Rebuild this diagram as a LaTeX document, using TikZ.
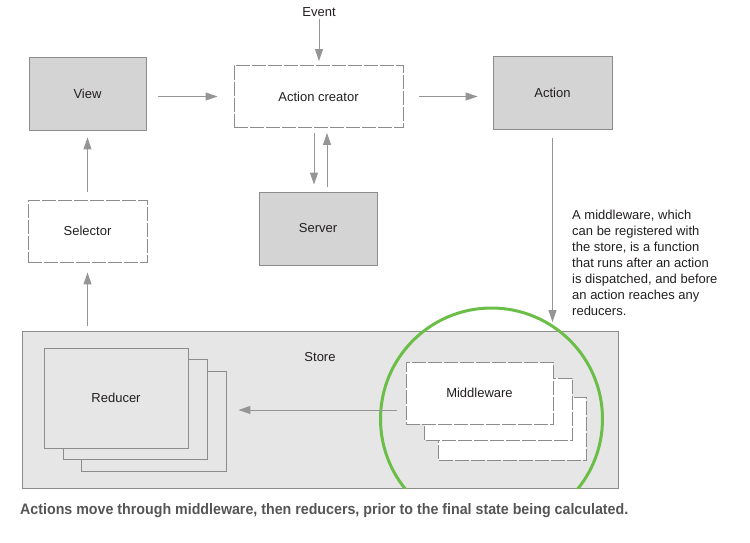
\documentclass[tikz,border=0pt]{standalone}
\usepackage{fontspec}
\setmainfont{Liberation Sans}
\usetikzlibrary{arrows.meta,calc}
\definecolor{bordergray}{HTML}{8C8C8C}
\definecolor{arrowgray}{HTML}{959595}
\definecolor{boxfill}{HTML}{D4D4D4}
\definecolor{storefill}{HTML}{E6E6E6}
\definecolor{txt}{HTML}{231F20}
\definecolor{captiongray}{HTML}{555555}
\definecolor{ringgreen}{HTML}{6BBE47}
\begin{document}
\begin{tikzpicture}[x=1pt,y=-1pt,
  every node/.style={text=txt,font=\fontsize{13}{16}\selectfont},
  graybox/.style={draw=bordergray,fill=boxfill,line width=0.9pt,inner sep=0pt},
  dashbox/.style={draw=bordergray,fill=white,line width=0.9pt,inner sep=0pt,dash pattern=on 14pt off 2pt},
  stackbox/.style={draw=bordergray,fill=storefill,line width=0.9pt},
  mwbox/.style={draw=bordergray,fill=white,line width=0.9pt,dash pattern=on 14pt off 2pt},
  arr/.style={draw=arrowgray,line width=1pt,-{Triangle[length=12pt,width=8pt]}},
  ring/.style={draw=ringgreen,line width=3pt}]
\useasboundingbox (0,0) rectangle (750,542);
% top row
\node[graybox,minimum width=117pt,minimum height=73pt] (view) at (87.5,93.5) {View};
\node[dashbox,minimum width=169pt,minimum height=62pt] (ac) at (318.5,96.5) {Action creator};
\node[graybox,minimum width=119pt,minimum height=73pt] (action) at (552.5,92.5) {Action};
\node[inner sep=0pt] (event) at (319,12) {Event};
\node[graybox,minimum width=118pt,minimum height=73pt] (server) at (318,228.5) {Server};
\node[dashbox,minimum width=119pt,minimum height=62pt] (selector) at (87.5,231) {Selector};
% store
\node[draw=bordergray,fill=storefill,line width=0.9pt,minimum width=596pt,minimum height=157pt,inner sep=0pt] (store) at (320,410) {};
\node[inner sep=0pt] (storelabel) at (320,357) {Store};
% reducer stack
\draw[stackbox] (81,371) rectangle (226,471);
\draw[stackbox] (63,359) rectangle (207,459);
\node[stackbox,minimum width=144pt,minimum height=100pt,inner sep=0pt] (reducer) at (116,398) {Reducer};
% middleware stack
\draw[mwbox] (438,397) rectangle (586,460);
\draw[mwbox] (424,378) rectangle (572,440);
\node[mwbox,minimum width=147pt,minimum height=62pt,inner sep=0pt] (mw) at (479.5,393) {Middleware};
% green ring
\begin{scope}
\clip (0,0) rectangle (750,488.5);
\draw[ring] (491.5,419) circle (111pt);
\end{scope}
% annotation
\node[anchor=north west,align=left,inner sep=0pt] (note) at (572,209.5) {A middleware, which\\can be registered with\\the store, is a function\\that runs after an action\\is dispatched, and before\\an action reaches any\\reducers.};
% connectors
\coordinate (redin) at ([yshift=-12pt]reducer.east);
\draw[arr,shorten <=2pt,shorten >=4pt] (event.south) -- (event.south|-ac.north);
\draw[arr,shorten <=12pt,shorten >=16pt] (view.east|-ac.west) -- (ac.west);
\draw[arr,shorten <=16pt,shorten >=15pt] (ac.east) -- (ac.east-|action.west);
\draw[arr,shorten <=9pt,shorten >=9pt] (action.south) -- (action.south|-store.north);
\draw[arr,shorten <=5pt,shorten >=7pt] ([xshift=-4pt]server.north|-ac.south) -- ([xshift=-4pt]server.north);
\draw[arr,shorten <=5pt,shorten >=5pt] ([xshift=9pt]server.north) -- ([xshift=9pt]server.north|-ac.south);
\draw[arr,shorten <=8pt,shorten >=7pt] (selector.north) -- (view.south);
\draw[arr,shorten <=5pt,shorten >=10pt] (selector.south|-store.north) -- (selector.south);
\draw[arr,shorten <=9pt,shorten >=50pt] (mw.west|-redin) -- (redin);
% caption
\node[anchor=base west,inner sep=0pt,text=captiongray] (caption) at (20,514) {\resizebox{608pt}{11pt}{\bfseries Actions move through middleware, then reducers, prior to the final state being calculated.}};
\end{tikzpicture}
\end{document}
